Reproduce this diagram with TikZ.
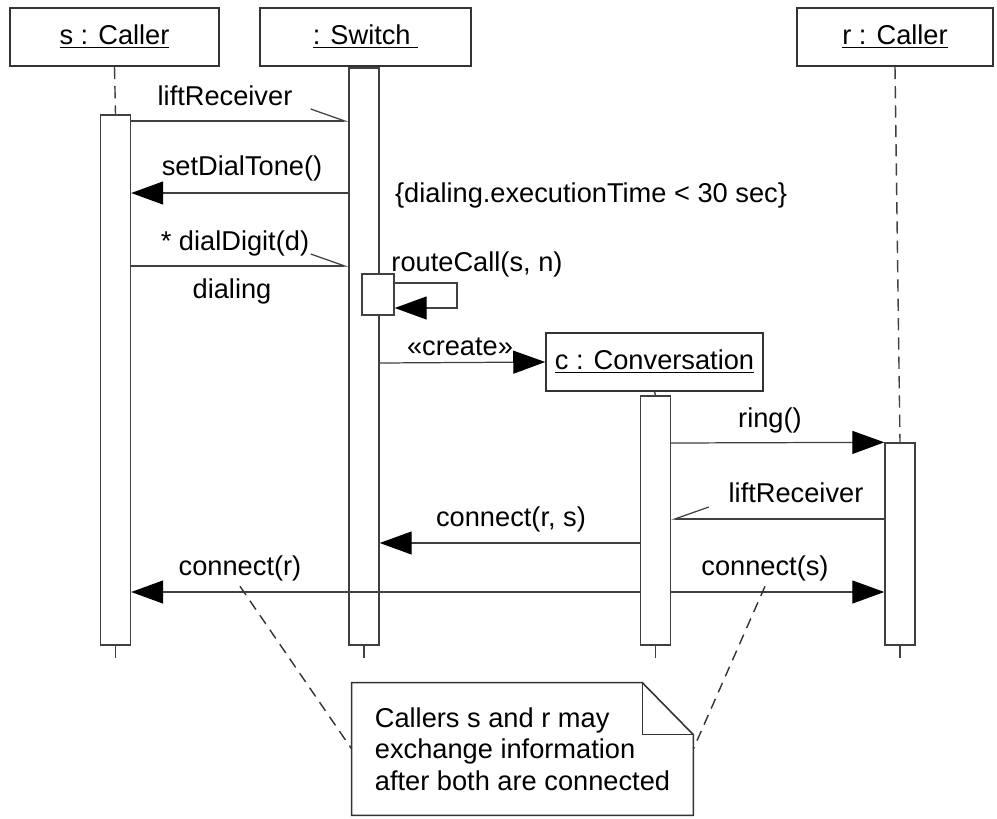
\documentclass[tikz,border=0pt]{standalone}
\usepackage{fontspec}
\setmainfont{Liberation Sans}
\usetikzlibrary{arrows.meta}
\newcommand{\umlfont}{\fontsize{15.5}{18}\selectfont}

\tikzset{
  obj/.style={draw=black!80, line width=0.9pt, minimum height=1.16cm, font=\umlfont},
  act/.style={draw=black!75, line width=0.8pt, fill=white, minimum width=0.6cm},
  lifeline/.style={draw=black!75, line width=0.8pt, dash pattern=on 7pt off 4pt},
  msg/.style={draw=black!75, line width=0.7pt},
  call/.style={msg, -{Triangle[length=0.64cm,width=0.46cm,color=black]}},
  async/.style={msg, -{Straight Barb[harpoon,length=0.68cm,width=0.48cm]}},
  lbl/.style={font=\umlfont, inner sep=1pt},
  notebox/.style={font=\umlfont, align=left, minimum width=6.82cm, minimum height=2.64cm},
  notelink/.style={draw=black!80, line width=0.8pt, dash pattern=on 6pt off 4pt}
}

\begin{document}
\begin{tikzpicture}[x=0.02cm,y=-0.02cm]
\useasboundingbox (0,0) rectangle (997,818);

% Objects
\node[obj, minimum width=4.18cm] (s) at (114.5,37) {\underline{s : Caller}};
\node[obj, minimum width=4.22cm] (sw) at (365.5,37) {\underline{: Switch\ }};
\node[obj, minimum width=3.92cm] (r) at (895,37) {\underline{r : Caller}};

% Activations
\node[act, minimum height=10.6cm] (sa) at (115.5,380) {};
\node[act, minimum height=11.54cm] (swa) at (364,356.5) {};
\node[act, minimum height=4.04cm] (ra) at (900,544) {};
\node[act, minimum width=0.64cm, minimum height=0.82cm] (rc) at (378,294.5) {};

% Lifelines
\draw[lifeline] (s.south) -- (sa.north);
\draw[lifeline] (r.south) -- (ra.north);
\draw[lifeline] (sa.south) -- ++(0,14);
\draw[lifeline] (swa.south) -- ++(0,14);
\draw[lifeline] (ra.south) -- ++(0,14);

% Dialing
\draw[async] (sa.east |- 0,121) -- (swa.west |- 0,121);
\node[lbl] (lift1) at (225,96) {liftReceiver};
\draw[call] (swa.west |- 0,193) -- (sa.east |- 0,193);
\node[lbl] (tone) at (242,168) {setDialTone()};
\node[lbl, anchor=west] (cons) at (393,195) {\{dialing.executionTime < 30 sec\}};
\draw[async] (sa.east |- 0,266) -- (swa.west |- 0,266);
\node[lbl] (digit) at (235,243) {* dialDigit(d)};
\node[lbl] (dialing) at (232,291) {dialing};

% Routing
\draw[call] (rc.east |- 0,283) -| (457,308) -- (rc.east |- 0,308);
\node[lbl] (route) at (477,264) {routeCall(s, n)};

% Conversation
\node[obj, minimum width=4.34cm] (c) at (654.5,362) {\underline{c : Conversation}};
\node[act, minimum height=4.98cm] (ca) at (655.5,520.5) {};
\draw[lifeline] (c.south) -- (ca.north);
\draw[lifeline] (ca.south) -- ++(0,14);
\draw[call] (swa.east |- 0,363) -- (c.west);
\node[lbl] (create) at (460,347) {«create»};

\draw[call] (ca.east |- 0,443) -- (ra.north west);
\node[lbl] (ring) at (770,420) {ring()};
\draw[async, -{Straight Barb[harpoon,swap,length=0.68cm,width=0.48cm]}] (ra.west |- 0,519) -- (ca.east |- 0,519);
\node[lbl] (lift2) at (796,493) {liftReceiver};
\draw[call] (ca.west |- 0,543) -- (swa.east |- 0,543);
\node[lbl] (conrs) at (511,519) {connect(r, s)};
\draw[call] (ca.west |- 0,592) -- (sa.east |- 0,592);
\node[lbl] (conr) at (240,568) {connect(r)};
\draw[call] (ca.east |- 0,592) -- (ra.west |- 0,592);
\node[lbl] (cons2) at (765,568) {connect(s)};

% Note
\node[notebox] (note) at (522.5,749) {Callers s and r may\\exchange information\\after both are connected};
\draw[black!80, line width=0.9pt] (note.north west) -- ([xshift=-1.02cm]note.north east)
  -- ([yshift=-1.04cm]note.north east) -- (note.south east) -- (note.south west) -- cycle;
\draw[black!80, line width=0.9pt] ([xshift=-1.02cm]note.north east) |- ([yshift=-1.04cm]note.north east);
\draw[notelink] ([yshift=-2pt]conr.south) -- (note.west);
\draw[notelink] ([yshift=-2pt]cons2.south) -- (note.east);
\end{tikzpicture}
\end{document}
